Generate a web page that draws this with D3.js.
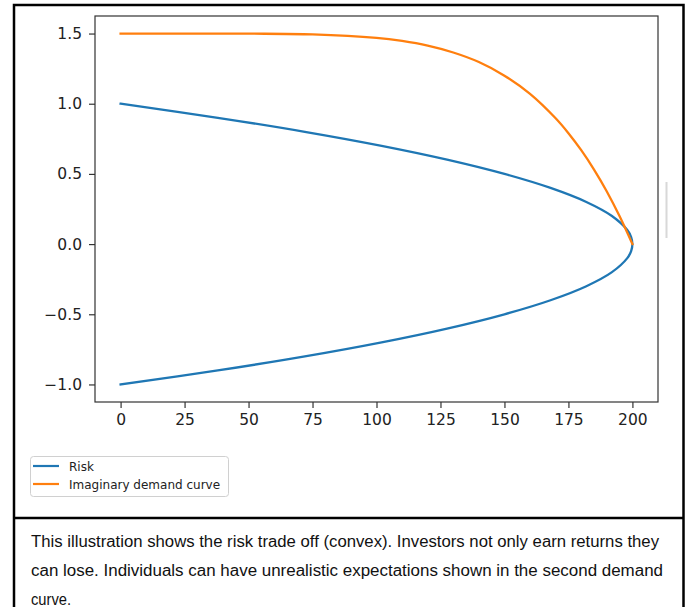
<!DOCTYPE html>
<html>
<head>
<meta charset="utf-8">
<script src="https://cdn.jsdelivr.net/npm/d3@7/dist/d3.min.js"></script>
<style>
  html, body { margin: 0; padding: 0; background: #fff; }
  svg { display: block; }
</style>
</head>
<body>
<svg id="chart" width="690" height="607"></svg>
<script>
// ---- data ----
const riskY = [-1, -0.9, -0.8, -0.7, -0.6, -0.5, -0.4, -0.3, -0.2, -0.1, -0.05, 0, 0.05, 0.1, 0.2, 0.3, 0.4, 0.5, 0.6, 0.7, 0.8, 0.9, 1];
const riskX = [0, 38, 72, 102, 128, 150, 168, 182, 192, 198, 199.5, 200, 199.5, 198, 192, 182, 168, 150, 128, 102, 72, 38, 0];

const demandX = [0, 25, 50, 75, 100, 110, 120, 130, 140, 150, 160, 170, 175, 180, 185, 190, 195, 200];
const demandY = [1.5, 1.5, 1.499, 1.494, 1.469, 1.447, 1.414, 1.365, 1.297, 1.2, 1.07, 0.896, 0.79, 0.669, 0.531, 0.375, 0.198, 0.0];

const xTicks = [0, 25, 50, 75, 100, 125, 150, 175, 200];
const yTicks = [-1.0, -0.5, 0.0, 0.5, 1.0, 1.5];

const seriesNames = ["Risk", "Imaginary demand curve"];
const seriesColors = ["#1f77b4", "#ff7f0e"];

const captionLines = [
  "This illustration shows the risk trade off (convex). Investors not only earn returns they",
  "can lose. Individuals can have unrealistic expectations shown in the second demand",
  "curve."
];

// ---- layout ----
const svg = d3.select("#chart");
const plot = { left: 95, right: 658, top: 16, bottom: 402 };

// outer box
svg.append("rect")
  .attr("x", 14).attr("y", 5).attr("width", 669.5).attr("height", 640)
  .attr("fill", "none").attr("stroke", "#000").attr("stroke-width", 2.5);
svg.append("line")
  .attr("x1", 14).attr("x2", 683.5).attr("y1", 518).attr("y2", 518)
  .attr("stroke", "#000").attr("stroke-width", 2.5);

// faint scrollbar-like mark
svg.append("rect")
  .attr("x", 665.5).attr("y", 182).attr("width", 2).attr("height", 56)
  .attr("fill", "#d8d8d8");

const x = d3.scaleLinear().domain([-10, 210]).range([plot.left, plot.right]);
const y = d3.scaleLinear().domain([-1.125, 1.625]).range([plot.bottom, plot.top]);

const font = "'DejaVu Sans', sans-serif";

// axes
const xAxis = d3.axisBottom(x).tickValues(xTicks).tickSize(6).tickPadding(6).tickFormat(d3.format("d"));
const yAxis = d3.axisLeft(y).tickValues(yTicks).tickSize(6).tickPadding(7).tickFormat(d3.format(".1f"));

const gx = svg.append("g").attr("transform", `translate(0,${plot.bottom})`).call(xAxis);
const gy = svg.append("g").attr("transform", `translate(${plot.left},0)`).call(yAxis);
[gx, gy].forEach(g => {
  g.select(".domain").remove();
  g.selectAll(".tick line").attr("stroke", "#333").attr("stroke-width", 1.2);
  g.selectAll(".tick text").attr("fill", "#222").style("font-family", font).style("font-size", "15.5px");
});

// lines
svg.append("defs").append("clipPath").attr("id", "clip")
  .append("rect").attr("x", plot.left).attr("y", plot.top)
  .attr("width", plot.right - plot.left).attr("height", plot.bottom - plot.top);

const riskData = riskX.map((v, i) => [v, riskY[i]]);
const demandData = demandX.map((v, i) => [v, demandY[i]]);

const lineCR = d3.line().x(d => x(d[0])).y(d => y(d[1])).curve(d3.curveCatmullRom.alpha(0.5));

const gl = svg.append("g").attr("clip-path", "url(#clip)");
gl.append("path").attr("d", lineCR(riskData))
  .attr("fill", "none").attr("stroke", seriesColors[0]).attr("stroke-width", 2.3).attr("stroke-linecap", "square");
gl.append("path").attr("d", lineCR(demandData))
  .attr("fill", "none").attr("stroke", seriesColors[1]).attr("stroke-width", 2.3).attr("stroke-linecap", "square");

// spines
svg.append("rect")
  .attr("x", plot.left).attr("y", plot.top)
  .attr("width", plot.right - plot.left).attr("height", plot.bottom - plot.top)
  .attr("fill", "none").attr("stroke", "#333").attr("stroke-width", 1.2);

// legend
const lg = svg.append("g");
lg.append("rect")
  .attr("x", 30.5).attr("y", 456.5).attr("width", 198).attr("height", 40).attr("rx", 3)
  .attr("fill", "#fff").attr("stroke", "#d0d0d0").attr("stroke-width", 1);
seriesNames.forEach((name, i) => {
  const yy = 466 + i * 18;
  lg.append("line").attr("x1", 33).attr("x2", 59).attr("y1", yy).attr("y2", yy)
    .attr("stroke", seriesColors[i]).attr("stroke-width", 2.2);
  lg.append("text").attr("x", 69).attr("y", yy + 4.5)
    .attr("fill", "#222").style("font-family", font).style("font-size", "12px")
    .text(name);
});

// caption
const capWidths = [628, 632, 40];
captionLines.forEach((t, i) => {
  svg.append("text")
    .attr("x", 31).attr("y", 547 + i * 29)
    .attr("fill", "#111")
    .attr("textLength", capWidths[i]).attr("lengthAdjust", "spacingAndGlyphs")
    .style("font-family", "'Liberation Sans', Arial, sans-serif").style("font-size", "16px")
    .text(t);
});
</script>
</body>
</html>
